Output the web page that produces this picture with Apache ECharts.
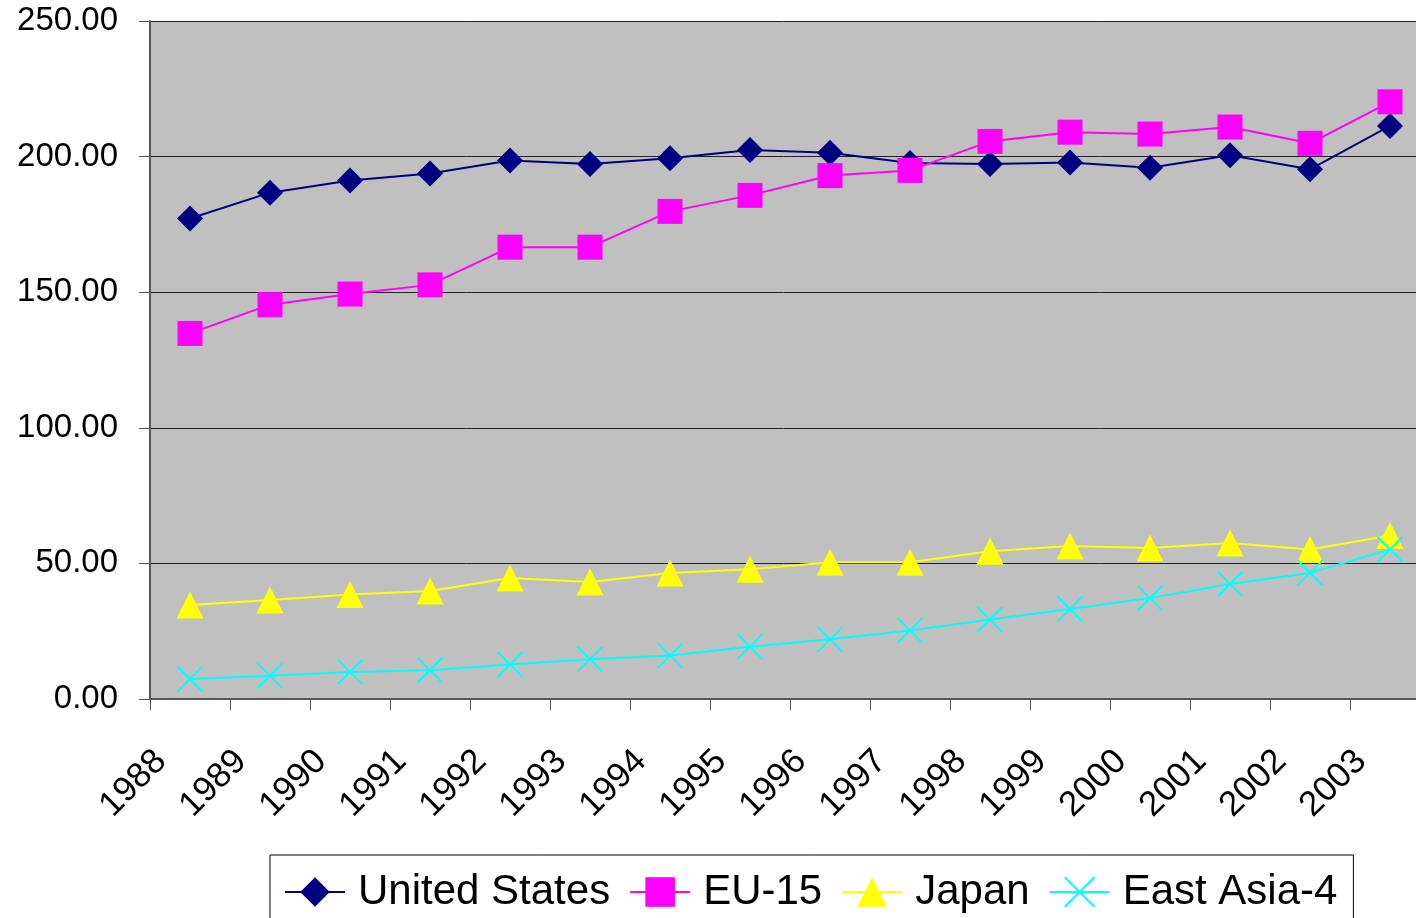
<!DOCTYPE html>
<html>
<head>
<meta charset="utf-8">
<script src="https://cdn.jsdelivr.net/npm/echarts@6/dist/echarts.min.js"></script>
<style>
html,body{margin:0;padding:0;background:#fff;}
#chart{width:1416px;height:918px;}
</style>
</head>
<body>
<div id="chart"></div>
<script>
const years = ['1988','1989','1990','1991','1992','1993','1994','1995','1996','1997','1998','1999','2000','2001','2002','2003'];
const unitedStates = [177.2, 186.7, 191.2, 193.8, 198.6, 197.3, 199.4, 202.4, 201.4, 197.6, 197.3, 197.8, 195.9, 200.5, 195.3, 211.3];
const eu15 = [134.8, 145.4, 149.3, 152.7, 166.6, 166.6, 179.8, 185.7, 193.0, 194.9, 205.6, 209.0, 208.3, 210.9, 204.9, 220.2];
const japan = [34.7, 36.5, 38.5, 39.8, 44.6, 43.1, 46.5, 47.8, 50.4, 50.4, 54.5, 56.4, 55.7, 57.5, 55.1, 60.3];
const eastAsia4 = [7.4, 8.6, 10.0, 10.6, 12.7, 14.7, 16.0, 19.3, 22.0, 25.3, 29.3, 33.2, 37.2, 42.4, 46.5, 55.1];
const seriesNames = ['United States', 'EU-15', 'Japan', 'East Asia-4'];

const FONT = "'Liberation Sans', Arial, sans-serif";
const chart = echarts.init(document.getElementById('chart'), null, {renderer: 'canvas'});
const xPath = 'path://M0,0L20,20M20,0L0,20';

chart.setOption({
  animation: false,
  backgroundColor: '#ffffff',
  grid: {
    left: 150, top: 21, width: 1280, bottom: 219,
    containLabel: false, outerBoundsMode: 'none',
    show: true, backgroundColor: '#C0C0C0', borderWidth: 0
  },
  xAxis: {
    type: 'category',
    data: years,
    boundaryGap: true,
    axisLine: {show: true, lineStyle: {color: '#555555', width: 2}},
    axisTick: {show: true, length: 11, lineStyle: {color: '#555555', width: 1}},
    axisLabel: {
      rotate: 45, margin: 28, padding: [0, 41, 0, 0],
      fontFamily: FONT, fontSize: 35, color: '#000'
    },
    splitLine: {show: false}
  },
  yAxis: {
    type: 'value',
    min: 0, max: 250, interval: 50,
    axisLine: {show: true, lineStyle: {color: '#555555', width: 2}},
    axisTick: {show: true, length: 11, lineStyle: {color: '#555555', width: 1}},
    axisLabel: {
      margin: 32, fontFamily: FONT, fontSize: 33, color: '#000',
      formatter: v => v.toFixed(2)
    },
    splitLine: {show: true, lineStyle: {color: '#222222', width: 1}}
  },
  legend: {
    left: 270, top: 855,
    orient: 'horizontal',
    padding: [12, 16, 40, 14],
    itemGap: 19,
    itemWidth: 60, itemHeight: 37,
    backgroundColor: '#ffffff',
    borderColor: '#000000', borderWidth: 1, borderRadius: 0,
    textStyle: {fontFamily: FONT, fontSize: 42, color: '#000', lineHeight: 50, padding: [0, 0, 0, 8]},
    data: seriesNames
  },
  series: [
    {
      name: seriesNames[0], type: 'line', data: unitedStates,
      symbol: 'diamond', symbolSize: 26,
      lineStyle: {color: '#000080', width: 2},
      itemStyle: {color: '#000080'}
    },
    {
      name: seriesNames[1], type: 'line', data: eu15,
      symbol: 'rect', symbolSize: 25,
      lineStyle: {color: '#FF00FF', width: 2},
      itemStyle: {color: '#FF00FF'}
    },
    {
      name: seriesNames[2], type: 'line', data: japan,
      symbol: 'triangle', symbolSize: 27,
      lineStyle: {color: '#FFFF00', width: 2},
      itemStyle: {color: '#FFFF00'}
    },
    {
      name: seriesNames[3], type: 'line', data: eastAsia4,
      symbol: xPath, symbolSize: 25,
      lineStyle: {color: '#00FFFF', width: 2},
      itemStyle: {color: '#00FFFF', borderColor: '#00FFFF', borderWidth: 2}
    }
  ]
});
</script>
</body>
</html>
